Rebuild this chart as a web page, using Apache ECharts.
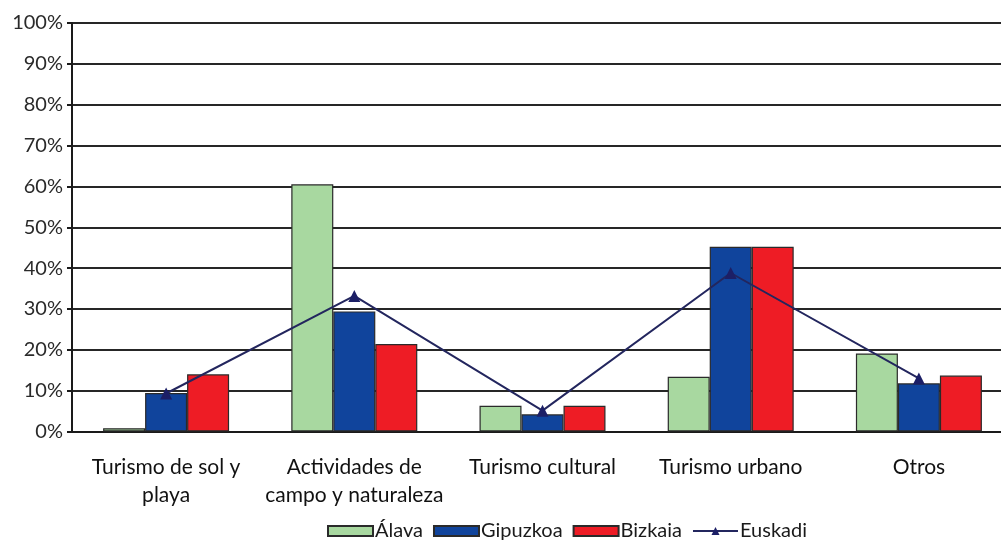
<!DOCTYPE html>
<html>
<head>
<meta charset="utf-8">
<script src="https://cdn.jsdelivr.net/npm/echarts@6/dist/echarts.min.js"></script>
<style>
html,body{margin:0;padding:0;background:#fff;}
#c{width:1001px;height:543px;}
</style>
</head>
<body>
<div id="c"></div>
<script>
var categories = ['Turismo de sol y\nplaya', 'Actividades de\ncampo y naturaleza', 'Turismo cultural', 'Turismo urbano', 'Otros'];
var alava = [0.8, 60.5, 6.3, 13.4, 19.1];
var gipuzkoa = [9.4, 29.4, 4.2, 45.2, 11.8];
var bizkaia = [14.0, 21.4, 6.3, 45.2, 13.7];
var euskadi = [9.3, 33.2, 5.1, 38.8, 13.0];
var yTicks = [0, 10, 20, 30, 40, 50, 60, 70, 80, 90, 100];

var font = 'Lato';
var chart = echarts.init(document.getElementById('c'));
var barBorder = {borderColor: '#2a2a2a', borderWidth: 1.2};
chart.setOption({
  animation: false,
  grid: {left: 72, width: 941, top: 23, bottom: 111.5, containLabel: false, outerBoundsMode: 'none'},
  legend: {
    top: 516, left: 322,
    itemWidth: 45, itemHeight: 10, itemGap: 10,
    textStyle: {fontFamily: font, fontSize: 20, color: '#1a1a1a', padding: [0,0,0,-3]},
    data: [
      {name: 'Álava', icon: 'rect'},
      {name: 'Gipuzkoa', icon: 'rect'},
      {name: 'Bizkaia', icon: 'rect'},
      {name: 'Euskadi'}
    ]
  },
  xAxis: {
    type: 'category',
    data: categories,
    axisLine: {lineStyle: {color: '#1a1a1a', width: 2}},
    axisTick: {show: false},
    axisLabel: {fontFamily: font, fontSize: 21, color: '#111', margin: 22, lineHeight: 28, interval: 0}
  },
  yAxis: {
    type: 'value',
    min: yTicks[0], max: yTicks[yTicks.length - 1], interval: 10,
    axisLine: {show: true, lineStyle: {color: '#1a1a1a', width: 2}},
    axisTick: {show: true, length: 5, lineStyle: {color: '#1a1a1a', width: 2}},
    splitLine: {lineStyle: {color: '#262626', width: 2}},
    axisLabel: {fontFamily: font, fontSize: 20, color: '#2a2a2a', margin: 9, formatter: '{value}%'}
  },
  series: [
    {name: 'Álava', type: 'bar', data: alava, barWidth: 42, barGap: '0%',
     itemStyle: Object.assign({color: '#a8d8a0'}, barBorder)},
    {name: 'Gipuzkoa', type: 'bar', data: gipuzkoa, barWidth: 42, barGap: '0%',
     itemStyle: Object.assign({color: '#10449c'}, barBorder)},
    {name: 'Bizkaia', type: 'bar', data: bizkaia, barWidth: 42, barGap: '0%',
     itemStyle: Object.assign({color: '#ee1c25'}, barBorder)},
    {name: 'Euskadi', type: 'line', data: euskadi, symbol: 'triangle', symbolSize: 12,
     lineStyle: {color: '#23265e', width: 2}, itemStyle: {color: '#1c1f66'}, z: 5}
  ]
});
</script>
</body>
</html>
